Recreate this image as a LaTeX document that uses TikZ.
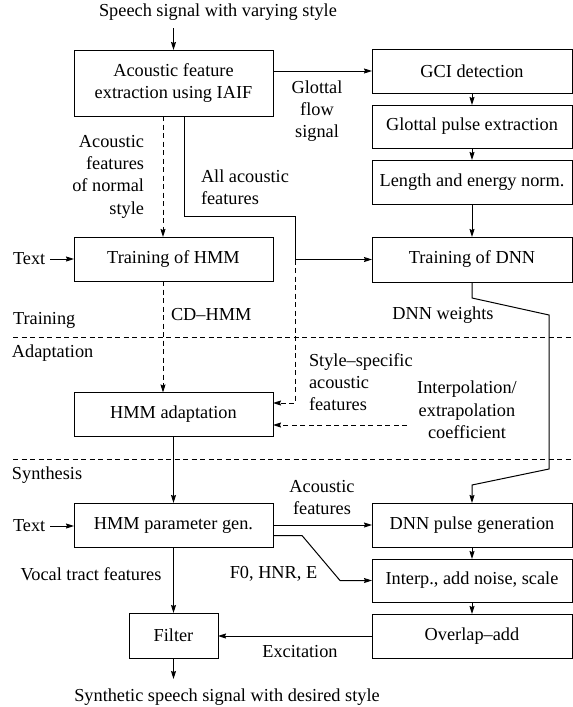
\documentclass[tikz,border=0pt]{standalone}
\usepackage{fontspec}
\setmainfont{Liberation Serif}
\usetikzlibrary{arrows.meta}
\begin{document}
\begin{tikzpicture}[x=1pt,y=-1pt,
  font=\fontsize{18.3}{22.3}\selectfont,
  line width=1pt,
  box/.style={draw, line width=1pt, align=center, inner sep=0pt, outer sep=0pt, minimum height=44pt},
  wide/.style={box, minimum width=199pt},
  rbox/.style={box, minimum width=200pt},
  lbl/.style={inner sep=0pt, outer sep=0pt, align=center},
  arr/.style={-{Stealth[length=8pt,width=5pt,inset=1pt]}},
  dsh/.style={dash pattern=on 5pt off 3.5pt},
]
\useasboundingbox (0,0) rectangle (573,707);

% input and output texts
\node[lbl] (title) at (218,12) {Speech signal with varying style};
\node[lbl] (out) at (227,697) {Synthetic speech signal with desired style};
\coordinate (tin) at (173.5,28);
\coordinate (tout) at (173.5,679);

% left column
\node[wide, minimum height=66pt] (iaif) at (173.5,83) {Acoustic feature\\extraction using IAIF};
\node[wide] (thmm) at (173.5,259) {Training of HMM};
\node[wide] (hadapt) at (173.5,414.5) {HMM adaptation};
\node[wide] (hpg) at (173.5,525) {HMM parameter gen.};
\node[box, minimum width=89pt, minimum height=45pt] (filter) at (173.5,635.5) {Filter};

% right column
\node[rbox] (gci) at (472,71) {GCI detection};
\node[rbox, minimum height=43pt] (gpe) at (472,126.5) {Glottal pulse extraction};
\node[rbox] (len) at (472,182) {Length and energy norm.};
\node[rbox, minimum height=45pt] (tdnn) at (472,259.5) {Training of DNN};
\node[rbox] (dpg) at (472,525) {DNN pulse generation};
\node[rbox, minimum height=43pt] (interp) at (472,580.5) {Interp., add noise, scale};
\node[rbox] (ola) at (472,636) {Overlap–add};

% text inputs
\node[lbl, anchor=west] (txt1) at (13,259) {Text};
\node[lbl, anchor=west] (txt2) at (13,526) {Text};

% stage labels and separators
\node[lbl, anchor=west] (stTrain) at (13,320) {Training};
\node[lbl, anchor=west] (stAdapt) at (12,353) {Adaptation};
\node[lbl, anchor=west] (stSynth) at (12,475) {Synthesis};
\draw[dsh] (13,337) -- (573,337);
\draw[dsh] (13,459) -- (573,459);

% connector labels
\node[lbl, align=right, anchor=east] (lNormal) at (144,176.5) {Acoustic\\features\\of normal\\style};
\node[lbl] (lGlottal) at (317,111) {Glottal\\flow\\signal};
\node[lbl, align=left, anchor=west] (lAll) at (201,187) {All acoustic\\features};
\node[lbl, anchor=west] (lCD) at (171,315) {CD–HMM};
\node[lbl] (lW) at (443,315) {DNN weights};
\node[lbl, align=left, anchor=west] (lStyle) at (309,382) {Style–specific\\acoustic\\features};
\node[lbl] (lInt) at (467,410) {Interpolation/\\extrapolation\\coefficient};
\node[lbl] (lAc) at (322,497.5) {Acoustic\\features};
\node[lbl] (lF0) at (273.5,574) {F0, HNR, E};
\node[lbl] (lVocal) at (91,574) {Vocal tract features};
\node[lbl] (lExc) at (300,652) {Excitation};

% bend points
\coordinate (j1) at (295,216);
\coordinate (j2) at (295,259.5);
\coordinate (ic) at (407,425);
\coordinate (w1) at (472,298);
\coordinate (w2) at (549,315);
\coordinate (w3) at (549,469);
\coordinate (w4) at (472,485);
\coordinate (b1) at (302,535.5);
\coordinate (b2) at (340,580.5);

% training
\draw[arr] (tin) -- (iaif.north);
\draw[arr] (iaif.east |- gci) -- (gci.west);
\draw[arr] (gci) -- (gpe);
\draw[arr] (gpe) -- (len);
\draw[arr] (len) -- (tdnn);
\draw[arr, dsh] ([xshift=-10.5pt]iaif.south) -- ([xshift=-10.5pt]thmm.north);
\draw[arr] ([xshift=10.5pt]iaif.south) |- (j1) |- (tdnn.west);
\draw[arr, shorten <=5pt] (txt1) -- (thmm);

% adaptation
\draw[arr, dsh] ([xshift=-10.5pt]thmm.south) -- ([xshift=-10.5pt]hadapt.north);
\draw[arr, dsh] (j2) |- ([yshift=11.5pt]hadapt.east);
\draw[arr, dsh] (ic) -- (ic -| hadapt.east);
\draw[arr] (hadapt) -- (hpg);
\draw[arr] (tdnn.south) -- (w1) -- (w2) -- (w3) -- (w4) -- (dpg.north);

% synthesis
\draw[arr, shorten <=5pt] (txt2) -- (txt2 -| hpg.west);
\draw[arr] (hpg.east) -- (dpg.west);
\draw[arr] ([yshift=-10.5pt]hpg.east) -- (b1) -- (b2) -- (interp.west);
\draw[arr] (dpg) -- (interp);
\draw[arr] (interp) -- (ola);
\draw[arr] (ola.west) -- (ola.west -| filter.east);
\draw[arr] (hpg) -- (filter);
\draw[arr] (filter) -- (tout);
\end{tikzpicture}
\end{document}
